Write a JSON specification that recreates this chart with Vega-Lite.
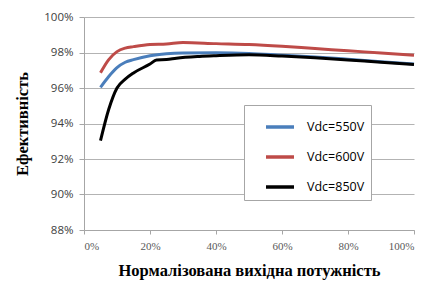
{
  "$schema": "https://vega.github.io/schema/vega-lite/v6.json",
  "width": 330,
  "height": 213,
  "autosize": {"type": "none"},
  "padding": {"left": 84, "top": 17, "right": 13, "bottom": 54},
  "background": "white",
  "config": {"view": {"stroke": null}},
  "data": {"values": [
    {"s": "Vdc=550V", "x": 0.05, "y": 0.9604},
    {"s": "Vdc=550V", "x": 0.075, "y": 0.9665},
    {"s": "Vdc=550V", "x": 0.10, "y": 0.9715},
    {"s": "Vdc=550V", "x": 0.125, "y": 0.9745},
    {"s": "Vdc=550V", "x": 0.15, "y": 0.976},
    {"s": "Vdc=550V", "x": 0.20, "y": 0.9782},
    {"s": "Vdc=550V", "x": 0.25, "y": 0.9793},
    {"s": "Vdc=550V", "x": 0.30, "y": 0.9797},
    {"s": "Vdc=550V", "x": 0.40, "y": 0.9798},
    {"s": "Vdc=550V", "x": 0.50, "y": 0.9795},
    {"s": "Vdc=550V", "x": 0.60, "y": 0.9785},
    {"s": "Vdc=550V", "x": 0.70, "y": 0.9775},
    {"s": "Vdc=550V", "x": 0.80, "y": 0.9762},
    {"s": "Vdc=550V", "x": 0.90, "y": 0.9748},
    {"s": "Vdc=550V", "x": 1.00, "y": 0.9735},
    {"s": "Vdc=600V", "x": 0.05, "y": 0.9686},
    {"s": "Vdc=600V", "x": 0.075, "y": 0.976},
    {"s": "Vdc=600V", "x": 0.10, "y": 0.9805},
    {"s": "Vdc=600V", "x": 0.125, "y": 0.9825},
    {"s": "Vdc=600V", "x": 0.15, "y": 0.9833},
    {"s": "Vdc=600V", "x": 0.20, "y": 0.9845},
    {"s": "Vdc=600V", "x": 0.25, "y": 0.9848},
    {"s": "Vdc=600V", "x": 0.30, "y": 0.9856},
    {"s": "Vdc=600V", "x": 0.40, "y": 0.985},
    {"s": "Vdc=600V", "x": 0.50, "y": 0.9845},
    {"s": "Vdc=600V", "x": 0.60, "y": 0.9835},
    {"s": "Vdc=600V", "x": 0.70, "y": 0.9822},
    {"s": "Vdc=600V", "x": 0.80, "y": 0.981},
    {"s": "Vdc=600V", "x": 0.90, "y": 0.9797},
    {"s": "Vdc=600V", "x": 1.00, "y": 0.9785},
    {"s": "Vdc=850V", "x": 0.05, "y": 0.9303},
    {"s": "Vdc=850V", "x": 0.075, "y": 0.948},
    {"s": "Vdc=850V", "x": 0.10, "y": 0.96},
    {"s": "Vdc=850V", "x": 0.125, "y": 0.965},
    {"s": "Vdc=850V", "x": 0.15, "y": 0.9685},
    {"s": "Vdc=850V", "x": 0.20, "y": 0.9735},
    {"s": "Vdc=850V", "x": 0.22, "y": 0.9758},
    {"s": "Vdc=850V", "x": 0.25, "y": 0.976},
    {"s": "Vdc=850V", "x": 0.28, "y": 0.9768},
    {"s": "Vdc=850V", "x": 0.35, "y": 0.9778},
    {"s": "Vdc=850V", "x": 0.40, "y": 0.9782},
    {"s": "Vdc=850V", "x": 0.50, "y": 0.9787},
    {"s": "Vdc=850V", "x": 0.60, "y": 0.978},
    {"s": "Vdc=850V", "x": 0.70, "y": 0.977},
    {"s": "Vdc=850V", "x": 0.80, "y": 0.9758},
    {"s": "Vdc=850V", "x": 0.90, "y": 0.9745},
    {"s": "Vdc=850V", "x": 1.00, "y": 0.9733}
  ]},
  "mark": {"type": "line", "strokeWidth": 3, "interpolate": "monotone"},
  "encoding": {
    "x": {
      "field": "x", "type": "quantitative",
      "scale": {"domain": [0, 1], "nice": false, "zero": false},
      "axis": {
        "values": [0, 0.2, 0.4, 0.6, 0.8, 1.0], "format": ".0%",
        "grid": false, "domainColor": "#a6a6a6", "tickColor": "#a6a6a6", "tickSize": 4,
        "labelFont": "Liberation Serif", "labelFontSize": 11, "labelColor": "#595959", "labelPadding": 6,
        "title": "Нормалізована вихідна потужність",
        "titleFont": "Liberation Serif", "titleFontSize": 16.5, "titleFontWeight": "bold", "titleColor": "#000", "titlePadding": 11
      }
    },
    "y": {
      "field": "y", "type": "quantitative",
      "scale": {"domain": [0.88, 1.0], "nice": false, "zero": false},
      "axis": {
        "values": [0.88, 0.90, 0.92, 0.94, 0.96, 0.98, 1.0], "format": ".0%",
        "grid": true, "gridColor": "#b3b3b3", "gridWidth": 1,
        "domainColor": "#a6a6a6", "tickColor": "#a6a6a6", "tickSize": 5,
        "labelFont": "Open Sans", "labelFontSize": 11.5, "labelColor": "#404040", "labelPadding": 6,
        "title": "Ефективність",
        "titleFont": "Liberation Serif", "titleFontSize": 16.5, "titleFontWeight": "bold", "titleColor": "#000", "titlePadding": 13
      }
    },
    "color": {
      "field": "s", "type": "nominal",
      "scale": {"domain": ["Vdc=550V", "Vdc=600V", "Vdc=850V"], "range": ["#4a7ebb", "#be4b48", "#000000"]},
      "legend": {
        "title": null, "orient": "none", "legendX": 160, "legendY": 88,
        "fillColor": "white", "strokeColor": "#a6a6a6", "padding": 6,
        "symbolType": "stroke", "symbolSize": 784, "symbolStrokeWidth": 3.5, "symbolOffset": 14,
        "labelFont": "Open Sans", "labelFontSize": 12.5, "labelColor": "#000", "labelOffset": 11,
        "rowPadding": 7, "offset": 0
      }
    }
  }
}
